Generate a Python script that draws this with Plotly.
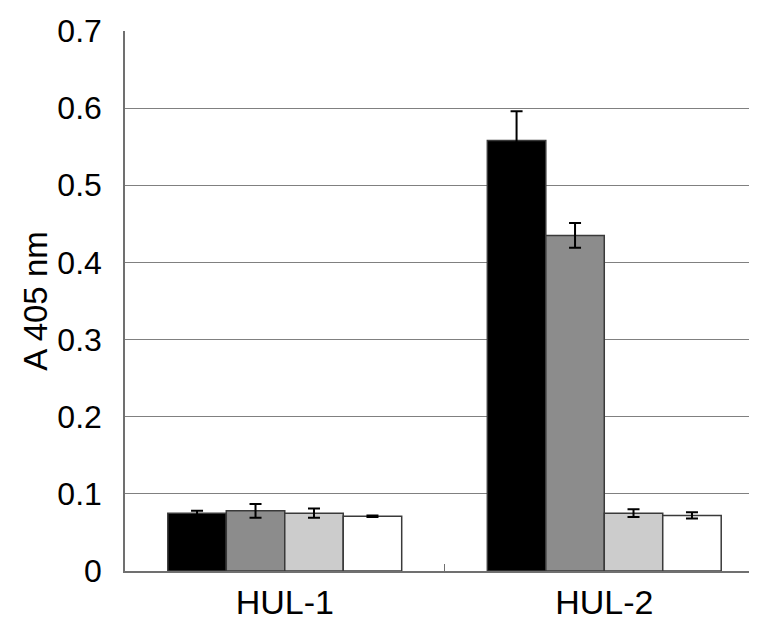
import plotly.graph_objects as go

categories = ["HUL-1", "HUL-2"]
series_names = ["s1", "s2", "s3", "s4"]
values = [
    [0.075, 0.558],
    [0.078, 0.435],
    [0.075, 0.075],
    [0.071, 0.072],
]
errors = [
    [0.003, 0.038],
    [0.009, 0.016],
    [0.006, 0.005],
    [0.001, 0.004],
]
colors = ["#000000", "#8c8c8c", "#cccccc", "#ffffff"]
y_ticks = [0, 0.1, 0.2, 0.3, 0.4, 0.5, 0.6, 0.7]
y_tick_text = ["0", "0.1", "0.2", "0.3", "0.4", "0.5", "0.6", "0.7"]

fig = go.Figure()
for name, vals, errs, col in zip(series_names, values, errors, colors):
    fig.add_trace(go.Bar(
        x=categories, y=vals, name=name,
        marker=dict(color=col, line=dict(color="#3a3a3a", width=1.5)),
        error_y=dict(type="data", array=errs, visible=True,
                     color="#000000", thickness=2, width=6),
    ))

# page body has an 8px margin, so the figure is shrunk and shifted margins compensate
fig.update_layout(
    width=749, height=618,
    margin=dict(l=117, r=0, t=23, b=55),
    paper_bgcolor="white", plot_bgcolor="white",
    barmode="group", bargap=0.268, bargroupgap=0,
    showlegend=False,
    font=dict(family="Liberation Sans, Arial, sans-serif", color="#000000"),
    xaxis=dict(
        range=[-0.5, 1.478],
        showline=True, linecolor="#707070", linewidth=1.5,
        ticks="inside", tickson="boundaries", ticklen=7, tickcolor="#707070",
        tickfont=dict(size=34),
        showgrid=False, zeroline=False,
    ),
    yaxis=dict(
        range=[0, 0.7],
        tickvals=y_ticks, ticktext=y_tick_text,
        tickfont=dict(size=32),
        showline=True, linecolor="#707070", linewidth=1.5,
        showgrid=True, gridcolor="#808080", gridwidth=1,
        zeroline=False, ticks="", ticklabelstandoff=15,
        title=dict(text="A 405 nm", font=dict(size=33), standoff=0),
    ),
)

fig.write_html("out.html")
